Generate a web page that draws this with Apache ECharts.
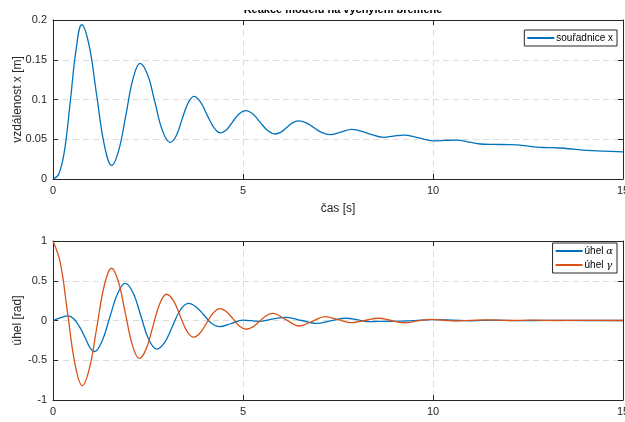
<!DOCTYPE html>
<html>
<head>
<meta charset="utf-8">
<script src="https://cdn.jsdelivr.net/npm/echarts@6/dist/echarts.min.js"></script>
<style>
html,body{margin:0;padding:0;background:#fff;}
#c{width:625px;height:422px;}
</style>
</head>
<body>
<div id="c"></div>
<script>
// top plot: x position of load [m] vs time [s]
const xTime = [0,0.15,0.3,0.45,0.6,0.755,0.95,1.15,1.35,1.545,1.73,1.92,2.105,2.29,2.49,2.685,2.88,3.08,3.24,3.395,3.55,3.71,3.88,4.05,4.23,4.40,4.57,4.73,4.9,5.07,5.26,5.45,5.65,5.84,6.0,6.15,6.3,6.46,6.67,6.87,7.08,7.29,7.57,7.86,8.28,8.7,8.96,9.22,9.6,10.0,10.3,10.62,11.0,11.24,11.6,12.03,12.4,12.73,13.0,13.34,13.7,14.04,14.5,15];
const xValue = [0,0.006,0.035,0.095,0.16,0.194,0.168,0.105,0.043,0.017,0.036,0.081,0.126,0.1455,0.131,0.096,0.061,0.046,0.054,0.075,0.095,0.104,0.097,0.081,0.065,0.058,0.062,0.072,0.082,0.086,0.0817,0.0713,0.061,0.0566,0.059,0.0648,0.0706,0.073,0.0705,0.0644,0.0583,0.0558,0.059,0.0625,0.0575,0.0524,0.054,0.0553,0.052,0.048,0.0485,0.049,0.046,0.044,0.0435,0.0432,0.042,0.040,0.0395,0.039,0.0375,0.036,0.035,0.034];

// bottom plot: angle alpha [rad]
const alphaTime = [0,0.2,0.4,0.55,0.7,0.85,0.97,1.09,1.29,1.495,1.70,1.90,2.11,2.315,2.52,2.73,2.94,3.145,3.35,3.56,3.76,3.97,4.17,4.38,4.7,5.0,5.4,5.8,6.14,6.55,6.93,7.3,7.72,8.0,8.29,8.6,9.0,9.5,10.0,10.5,11.0,11.6,12.3,13.0,14.0,15];
const alphaValue = [0,0.035,0.057,0.02,-0.08,-0.22,-0.34,-0.39,-0.26,0.04,0.34,0.468,0.347,0.054,-0.24,-0.36,-0.276,-0.072,0.132,0.216,0.174,0.07,-0.034,-0.077,-0.035,0.005,-0.01,0.02,0.04,0.0,-0.035,-0.005,0.028,0.01,-0.015,-0.01,-0.01,-0.002,0.01,0.005,-0.003,0.004,-0.002,0.002,0,0];

// bottom plot: angle gamma [rad]
const gammaTime = [0,0.19,0.385,0.58,0.77,0.96,1.155,1.35,1.54,1.72,1.905,2.09,2.27,2.45,2.63,2.81,2.99,3.17,3.345,3.52,3.70,3.87,4.045,4.22,4.39,4.56,4.74,4.91,5.09,5.26,5.435,5.61,5.78,6.13,6.48,6.82,7.16,7.51,7.86,8.21,8.56,8.9,9.26,9.6,9.96,10.3,10.6,11.0,11.4,12.0,12.6,13.3,14.0,15];
const gammaValue = [1.0,0.73,0.09,-0.55,-0.82,-0.60,-0.08,0.44,0.657,0.49,0.09,-0.31,-0.476,-0.36,-0.073,0.212,0.33,0.25,0.06,-0.13,-0.21,-0.157,-0.03,0.097,0.15,0.112,0.02,-0.072,-0.11,-0.08,-0.01,0.06,0.09,0.01,-0.069,-0.01,0.048,0.01,-0.027,0.0,0.028,0.0,-0.028,-0.005,0.015,0.003,-0.006,0.002,0.008,0.0,0.004,0.0,0.002,0];

const xTicks = [0,5,10,15];
const topYTicks = [0,0.05,0.1,0.15,0.2];
const botYTicks = [-1,-0.5,0,0.5,1];

const titleText = 'Reakce modelu na vychýlení břemene';
const xName = 'čas [s]';
const topYName = 'vzdálenost x [m]';
const botYName = 'úhel [rad]';
const seriesNames = ['souřadnice x', 'úhel α', 'úhel γ'];

const zip = (a, b) => a.map((t, i) => [t, b[i]]);
const AX = '#262626';
const FONT = 'Liberation Sans, Arial, sans-serif';

function xAx(gi, bottom) {
  return {
    type: 'value', gridIndex: gi, min: xTicks[0], max: xTicks[xTicks.length-1], interval: 5,
    position: bottom ? 'bottom' : 'top',
    axisLine: {show: true, onZero: false, lineStyle: {color: AX, width: 1}},
    axisTick: {show: true, inside: true, length: 5, lineStyle: {color: AX}},
    axisLabel: {show: bottom, color: AX, fontSize: 11, fontFamily: FONT, margin: 6},
    splitLine: {show: bottom, lineStyle: {color: '#dcdcdc', type: [6, 4], width: 1}},
    name: bottom ? xName : '', nameLocation: 'middle', nameGap: 24, nameMoveOverlap: false,
    nameTextStyle: {color: AX, fontSize: 12, fontFamily: FONT}
  };
}
function yAx(gi, left, ticks, interval, name) {
  return {
    type: 'value', gridIndex: gi, min: ticks[0], max: ticks[ticks.length-1], interval: interval,
    position: left ? 'left' : 'right',
    axisLine: {show: true, onZero: false, lineStyle: {color: AX, width: 1}},
    axisTick: {show: true, inside: true, length: 5, lineStyle: {color: AX}},
    axisLabel: {show: left, color: AX, fontSize: 11, fontFamily: FONT, margin: 6},
    splitLine: {show: left, lineStyle: {color: '#dcdcdc', type: [6, 4], width: 1}},
    name: left ? name : '', nameLocation: 'middle', nameGap: 29, nameRotate: 90, nameMoveOverlap: false,
    nameTextStyle: {color: AX, fontSize: 12, fontFamily: FONT}
  };
}

const chart = echarts.init(document.getElementById('c'), null, {renderer: 'canvas'});
chart.setOption({
  animation: false,
  backgroundColor: '#fff',
  title: {
    text: titleText, left: 338, textAlign: 'center', top: -1, z: 1,
    textStyle: {fontSize: 11, fontWeight: 'bold', color: '#000', fontFamily: FONT}
  },
  graphic: [{type: 'rect', shape: {x: 200, y: 0, width: 300, height: 10}, style: {fill: '#fff'}, z: 100, zlevel: 0}],
  grid: [
    {left: 53, top: 20, right: 2, height: 159, outerBoundsMode: 'none', containLabel: false},
    {left: 53, top: 241, right: 2, height: 159, outerBoundsMode: 'none', containLabel: false}
  ],
  legend: [
    {
      data: [seriesNames[0]], right: 8, top: 30, orient: 'vertical',
      borderColor: '#262626', borderWidth: 1, padding: [3, 4, 3, 3],
      itemWidth: 27, itemHeight: 2, itemGap: 2, icon: 'rect',
      textStyle: {fontSize: 10, color: '#000', fontFamily: FONT, padding: [0, 0, 0, -3]}
    },
    {
      data: [seriesNames[1], seriesNames[2]], right: 8, top: 243, orient: 'vertical',
      borderColor: '#262626', borderWidth: 1, padding: [3, 4, 3, 3],
      itemWidth: 27, itemHeight: 2, itemGap: 4, icon: 'rect',
      formatter: function (n) {
        const parts = n.split(' ');
        return parts[0] + ' {g|' + parts[1] + '}';
      },
      textStyle: {
        fontSize: 10, color: '#000', fontFamily: FONT, padding: [0, 0, 0, -3],
        rich: {g: {fontFamily: 'DejaVu Serif, serif', fontStyle: 'italic', fontSize: 10, color: '#000'}}
      }
    }
  ],
  xAxis: [xAx(0, true), xAx(0, false), xAx(1, true), xAx(1, false)],
  yAxis: [
    yAx(0, true, topYTicks, 0.05, topYName), yAx(0, false, topYTicks, 0.05, ''),
    yAx(1, true, botYTicks, 0.5, botYName), yAx(1, false, botYTicks, 0.5, '')
  ],
  series: [
    {name: seriesNames[0], type: 'line', xAxisIndex: 0, yAxisIndex: 0, data: zip(xTime, xValue),
     smooth: 0.4, symbol: 'none', lineStyle: {color: '#0072BD', width: 1.3}, itemStyle: {color: '#0072BD'}},
    {name: seriesNames[1], type: 'line', xAxisIndex: 2, yAxisIndex: 2, data: zip(alphaTime, alphaValue),
     smooth: 0.4, symbol: 'none', lineStyle: {color: '#0072BD', width: 1.3}, itemStyle: {color: '#0072BD'}},
    {name: seriesNames[2], type: 'line', xAxisIndex: 2, yAxisIndex: 2, data: zip(gammaTime, gammaValue),
     smooth: 0.4, symbol: 'none', lineStyle: {color: '#D95319', width: 1.3}, itemStyle: {color: '#D95319'}}
  ]
});
</script>
</body>
</html>
